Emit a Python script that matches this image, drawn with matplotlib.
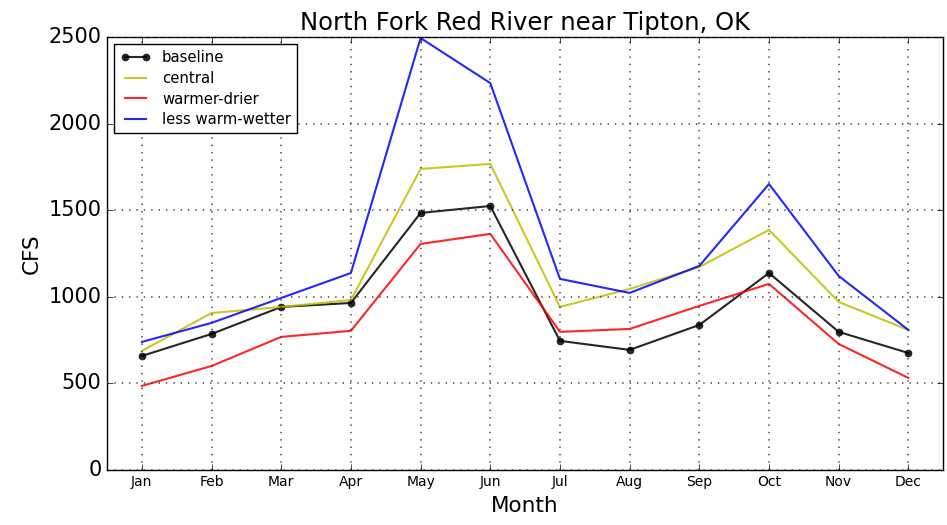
import numpy as np
import matplotlib
matplotlib.use('Agg')
import matplotlib.pyplot as plt

# data
months = ['Jan', 'Feb', 'Mar', 'Apr', 'May', 'Jun', 'Jul', 'Aug', 'Sep', 'Oct', 'Nov', 'Dec']
baseline = [658, 785, 941, 964, 1484, 1524, 745, 693, 837, 1137, 797, 675]
central = [687, 906, 941, 981, 1738, 1767, 941, 1045, 1172, 1386, 970, 808]
warmer_drier = [485, 600, 768, 803, 1305, 1363, 797, 814, 947, 1074, 727, 531]
less_warm_wetter = [739, 849, 993, 1137, 2494, 2234, 1103, 1022, 1178, 1651, 1120, 808]

plt.style.use('classic')
fig = plt.figure(figsize=(9.47, 5.25), dpi=100, facecolor='white')
ax = fig.add_axes([0.113, 0.105, 0.883, 0.8245])

x = np.arange(1, 13)
ax.plot(x, baseline, 'k-', marker='o', markersize=5, lw=1.5, alpha=0.85, label='baseline')
ax.plot(x, central, 'y-', lw=1.5, alpha=0.85, label='central')
ax.plot(x, warmer_drier, 'r-', lw=1.5, alpha=0.85, label='warmer-drier')
ax.plot(x, less_warm_wetter, 'b-', lw=1.5, alpha=0.85, label='less warm-wetter')

ax.set_xlim(0.5, 12.5)
ax.set_ylim(0, 2500)
ax.set_xticks(x)
ax.set_xticklabels(months, fontsize=10)
ax.tick_params(axis='y', labelsize=15)
ax.grid(True, color='0.25', linestyle=(0, (1, 4.3)), lw=1.1)
ax.set_xlabel('Month', fontsize=15.5)
ax.set_ylabel('CFS', fontsize=15.5)
ax.set_title('North Fork Red River near Tipton, OK', fontsize=17.5)
ax.legend(loc='upper left', fontsize=10.7, labelspacing=0.38)

fig.savefig('out.png', dpi=100, facecolor='white')
